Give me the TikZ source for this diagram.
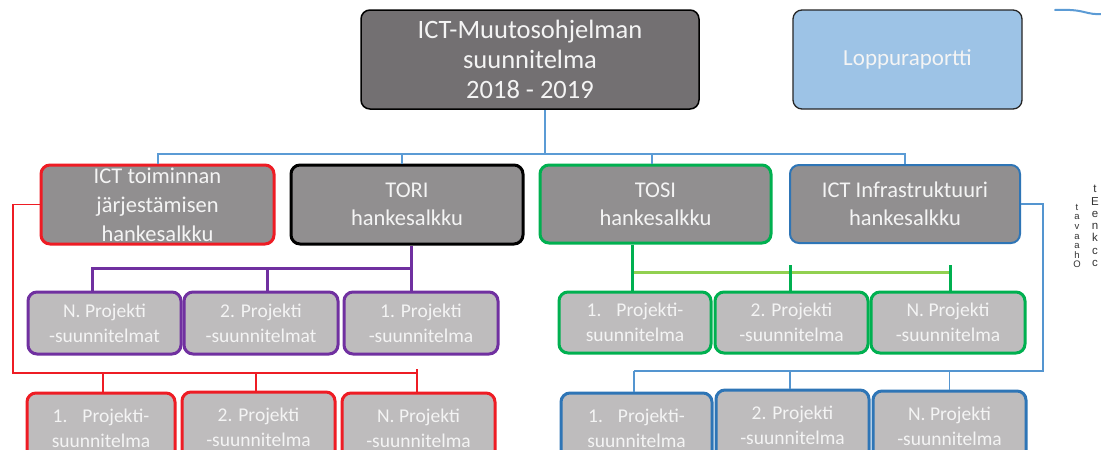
\documentclass[tikz,border=0pt]{standalone}
\usepackage{fontspec}
\setmainfont{Carlito}
\newfontfamily\sidefont{Liberation Sans}
\definecolor{topgray}{HTML}{737072}
\definecolor{midgray}{HTML}{918F90}
\definecolor{lightgraybox}{HTML}{BEBCBD}
\definecolor{lopblue}{HTML}{9DC3E6}
\definecolor{conblue}{HTML}{5B9BD5}
\definecolor{boxblue}{HTML}{2E75B6}
\definecolor{myred}{HTML}{EE1C24}
\definecolor{mypurple}{HTML}{7030A0}
\definecolor{mygreen}{HTML}{00B050}
\definecolor{mylgreen}{HTML}{92D050}
\definecolor{textwhite}{HTML}{F4F4F4}
\begin{document}
\begin{tikzpicture}[x=1pt,y=-1pt,
  box/.style={rounded corners=9pt, align=center, text=textwhite, inner sep=0pt},
  topbox/.style={box, fill=topgray, draw=black, line width=1.5pt, font=\fontsize{26.5}{30}\selectfont},
  lopbox/.style={box, fill=lopblue, draw=black!85, line width=1.3pt, font=\fontsize{23}{26}\selectfont},
  midbox/.style={box, fill=midgray, line width=3pt, minimum height=79pt, minimum width=231pt, font=\fontsize{22.5}{28}\selectfont},
  prbox/.style={box, fill=lightgraybox, line width=3pt, minimum width=153pt, font=\fontsize{19.5}{25}\selectfont},
  rowA/.style={prbox, minimum height=62pt},
  rowB/.style={prbox, minimum height=70pt},
  blc/.style={draw=conblue, line width=2pt},
  blc2/.style={draw=conblue!85!boxblue, line width=1.8pt},
  redc/.style={draw=myred, line width=1.5pt},
  purc/.style={draw=mypurple, line width=3pt},
  grnc/.style={draw=mygreen, line width=3pt},
  lgrnc/.style={draw=mylgreen, line width=3pt},
  sidet/.style={inner sep=0pt, align=center, text=black!80}
]
\useasboundingbox (0,0) rectangle (1101,450);
\fill[white] (0,0) rectangle (1101,450);
\clip (0,0) rectangle (1101,450);

% top level
\node[topbox, minimum width=338pt, minimum height=99pt] (top) at (530,59.5) {ICT-Muutosohjelman\\suunnitelma\\2018 - 2019};
\node[lopbox, minimum width=229pt, minimum height=99pt] (lop) at (907.5,59.5) {Loppuraportti};

% second level
\node[midbox, draw=myred, minimum width=233pt, font=\fontsize{22.5}{29}\selectfont] (ict) at (157.5,204.5) {ICT toiminnan\\järjestämisen\\hankesalkku};
\node[midbox, draw=black, minimum width=232pt] (tori) at (407,204.5) {TORI\\hankesalkku};
\node[midbox, draw=mygreen, minimum height=78pt] (tosi) at (655.5,204) {TOSI\\hankesalkku};
\node[midbox, draw=boxblue, line width=2pt, minimum width=230pt, minimum height=78pt] (infra) at (905,204) {ICT Infrastruktuuri\\hankesalkku};

% third row left (purple)
\node[rowA, draw=mypurple] (p1) at (104.5,323) {N. Projekti\\-suunnitelmat};
\node[rowA, draw=mypurple, minimum width=154pt] (p2) at (261,323) {2. Projekti\\-suunnitelmat};
\node[rowA, draw=mypurple, minimum width=154pt] (p3) at (421,323) {1. Projekti\\-suunnitelma};

% third row right (green)
\node[rowA, draw=mygreen, minimum width=152pt, minimum height=61pt] (g1) at (635,322.5) {1.\hspace{15pt}Projekti-\\suunnitelma};
\node[rowA, draw=mygreen, minimum height=61pt] (g2) at (791.5,322.5) {2. Projekti\\-suunnitelma};
\node[rowA, draw=mygreen, minimum width=154pt, minimum height=61pt] (g3) at (948,322.5) {N. Projekti\\-suunnitelma};

% fourth row left (red)
\node[rowB, draw=myred, minimum width=148pt] (r1) at (101,428) {1.\hspace{15pt}Projekti-\\suunnitelma};
\node[rowB, draw=myred] (r2) at (258.5,427) {2. Projekti\\-suunnitelma};
\node[rowB, draw=myred] (r3) at (418.5,428) {N. Projekti\\-suunnitelma};

% fourth row right (blue)
\node[rowB, draw=boxblue, minimum width=151pt] (b1) at (636.5,428) {1.\hspace{15pt}Projekti-\\suunnitelma};
\node[rowB, draw=boxblue] (b2) at (792.5,425) {2. Projekti\\-suunnitelma};
\node[rowB, draw=boxblue] (b3) at (949.5,426) {N. Projekti\\-suunnitelma};

% top connectors
\draw[blc] ([xshift=15pt]top.south) -- ++(0,44) coordinate (hb);
\draw[blc] (ict.north) -- (ict.north |- hb) -- (infra.north |- hb) -- (infra.north);
\draw[blc] ([xshift=-5pt]tori.north) -- ([xshift=-5pt]tori.north |- hb);
\draw[blc] ([xshift=-3.5pt]tosi.north) -- ([xshift=-3.5pt]tosi.north |- hb);

% purple connectors
\draw[purc] ([xshift=4pt]tori.south) -- ++(0,23) coordinate (pj);
\draw[purc] ([xshift=-12pt]p1.north) |- (pj);
\draw[purc] ([xshift=6pt]p2.north) -- ([xshift=6pt]p2.north |- pj);
\draw[purc] (pj) -- ([xshift=-10pt]p3.north);

% green connectors
\path ([xshift=-23.5pt]tosi.south) ++(0,28) coordinate (gj);
\draw[lgrnc] (gj) -- ([xshift=2pt]g3.north |- gj);
\draw[grnc] ([xshift=-23.5pt]tosi.south) -- ([xshift=-3pt]g1.north);
\draw[grnc] ([xshift=-1.5pt]g2.north) -- ++(0,-26);
\draw[grnc] ([xshift=2pt]g3.north) -- ++(0,-26);

% red connectors
\coordinate (rl) at (13,373);
\draw[redc] (ict.west) -| (rl) -- ([xshift=-1.5pt]r3.north |- rl);
\draw[redc] ([xshift=2pt]r1.north) -- ([xshift=2pt]r1.north |- rl);
\draw[redc] ([xshift=-2.5pt]r2.north) -- ([xshift=-2.5pt]r2.north |- rl);
\draw[redc] ([xshift=-1.5pt]r3.north) -- ++(0,-23);

% blue bottom connectors
\coordinate (bl) at (1043,371);
\draw[blc2] (infra.east) -| (bl) -- ([xshift=-2.5pt]b1.north |- bl);
\draw[blc2] ([xshift=-2.5pt]b1.north) -- ([xshift=-2.5pt]b1.north |- bl);
\draw[blc2] ([xshift=-2.5pt]b2.north) -- ([xshift=-2.5pt]b2.north |- bl);
\draw[blc2] (b3.north) -- (b3.north |- bl);

% side texts
\node[sidet, font=\sidefont\fontsize{9.5}{9.6}\selectfont] (s1) at (1077,236) {t\\a\\v\\a\\a\\h\\O};
\node[sidet, font=\sidefont\fontsize{11.5}{12.3}\selectfont] (s2) at (1095,226) {t\\E\\e\\n\\k\\c\\c};

% squiggle
\draw[conblue, line width=2pt, line cap=round] (1055,10) .. controls (1068,9.5) and (1076,10) .. (1084,12) .. controls (1090,13.5) and (1095,14.5) .. (1101,14);
\end{tikzpicture}
\end{document}
